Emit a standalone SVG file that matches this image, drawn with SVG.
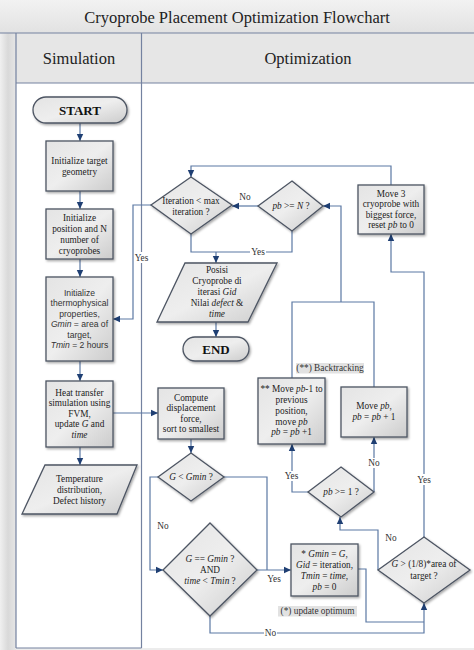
<svg xmlns="http://www.w3.org/2000/svg" width="474" height="650" viewBox="0 0 474 650">
<defs>
<linearGradient id="nodeGrad" x1="0" y1="0" x2="1" y2="1">
<stop offset="0" stop-color="#e4e4e4"/>
<stop offset="0.5" stop-color="#eeeeee"/>
<stop offset="1" stop-color="#cccccc"/>
</linearGradient>
<linearGradient id="titleGrad" x1="0" y1="0" x2="0" y2="1">
<stop offset="0" stop-color="#f2f2f2"/>
<stop offset="1" stop-color="#e2e2e2"/>
</linearGradient>
<linearGradient id="stripGrad" x1="0" y1="0" x2="1" y2="0">
<stop offset="0" stop-color="#f0f0f0"/>
<stop offset="0.5" stop-color="#d9d9d9"/>
<stop offset="1" stop-color="#e6e6e6"/>
</linearGradient>
<filter id="shadow" x="-10%" y="-10%" width="125%" height="130%">
<feDropShadow dx="1.2" dy="1.5" stdDeviation="0.8" flood-color="#000" flood-opacity="0.35"/>
</filter>
<marker id="arr" markerUnits="userSpaceOnUse" markerWidth="8" markerHeight="8" refX="7" refY="4" orient="auto">
<path d="M0,0.8 L7,4 L0,7.2 Z" fill="#1f3f73"/>
</marker>
</defs>
<style>
.node{fill:url(#nodeGrad);stroke:#4d5563;stroke-width:1.3;filter:url(#shadow)}
.t{font-family:"Liberation Serif","Times New Roman",serif;font-size:9.3px;fill:#222;text-anchor:middle}
.s{font-family:"Liberation Sans",Arial,sans-serif;font-size:8.6px;fill:#333;text-anchor:middle}
.b{font-family:"Liberation Serif","Times New Roman",serif;font-size:13px;font-weight:bold;fill:#111;text-anchor:middle}
.h{font-family:"Liberation Serif","Times New Roman",serif;font-size:16.5px;fill:#222;text-anchor:middle}
.lbl{font-family:"Liberation Serif","Times New Roman",serif;font-size:9.3px;fill:#333;text-anchor:middle}
.i{font-style:italic}
.frame{stroke:#7482a0;stroke-width:1.2;fill:none}
.conn path{fill:none;stroke:#5b78a3;stroke-width:1.2}
.a{marker-end:url(#arr)}
.wbg{fill:#fff}
.gbg{fill:#e2e2e2}
</style>

<g id="frame">
<rect x="0" y="0" width="474" height="650" fill="#ececec"/>
<rect x="0" y="0" width="474" height="33" fill="url(#titleGrad)"/>
<rect x="0" y="33" width="16" height="617" fill="url(#stripGrad)"/>
<rect x="16" y="33" width="458" height="50" fill="#e6e6e6"/>
<rect x="16" y="83" width="458" height="565" fill="#ffffff"/>
<path class="frame" d="M0,33 H474 M16,83 H474 M16,33 V648 M141.5,33 V648 M16,648 H141.5"/>
<text class="h" x="237" y="23">Cryoprobe Placement Optimization Flowchart</text>
<text class="h" x="79" y="64">Simulation</text>
<text class="h" x="308" y="64">Optimization</text>
</g>

<g class="conn" id="connectors">
<path class="a" d="M80,123 V141"/>
<path class="a" d="M80,191 V209"/>
<path class="a" d="M80,259 V277"/>
<path class="a" d="M80,361 V381"/>
<path class="a" d="M80,447 V465"/>
<path class="a" d="M113,413 H158"/>
<path class="a" d="M191,439 V453"/>
<path class="a" d="M158,477 H150 V570 H163"/>
<path d="M224,477 H267 V570"/>
<path class="a" d="M257,570 H291"/>
<path class="a" d="M210,616 V633 H424 V603"/>
<path d="M358,569 H366 V622 H424"/>
<path class="a" d="M378,570 V530 H340 V517"/>
<path class="a" d="M424,537 V272 H391 V234"/>
<path class="a" d="M308,492 H292 V444"/>
<path class="a" d="M374,492 V437"/>
<path d="M292,378 V302 H374 V387"/>
<path class="a" d="M341,302 V206 H323"/>
<path class="a" d="M258,206 H232"/>
<path d="M292,231 V252 H191 V234"/>
<path class="a" d="M216,252 V263"/>
<path class="a" d="M151,205 H133 V319 H113"/>
<path class="a" d="M391,185 V166 H191 V177"/>
<path class="a" d="M216,322 V337"/>
</g>

<g id="connector-labels">
<rect class="wbg" x="134" y="252" width="15" height="11"/>
<text class="lbl" x="141.5" y="261">Yes</text>
<text class="lbl" x="245" y="200">No</text>
<rect class="wbg" x="250" y="247" width="16" height="10"/>
<text class="lbl" x="258" y="255">Yes</text>
<rect class="wbg" x="284" y="471" width="15" height="10"/>
<text class="lbl" x="291.5" y="479">Yes</text>
<rect class="wbg" x="368" y="458" width="12" height="10"/>
<text class="lbl" x="374" y="466">No</text>
<rect class="wbg" x="416" y="474" width="16" height="11"/>
<text class="lbl" x="424" y="483">Yes</text>
<text class="lbl" x="391" y="541">No</text>
<text class="lbl" x="163" y="529">No</text>
<text class="lbl" x="274" y="582">Yes</text>
<rect class="wbg" x="264" y="628" width="13" height="10"/>
<text class="lbl" x="270.5" y="636">No</text>
</g>

<g id="start">
<rect class="node" x="33" y="97" width="94" height="26" rx="13"/>
<text class="b" x="80" y="114.5">START</text>
</g>

<g id="init-geometry">
<rect class="node" x="46" y="141" width="67" height="50"/>
<text class="t" x="79.5" y="163.7">Initialize target</text>
<text class="t" x="79.5" y="174.7">geometry</text>
</g>

<g id="init-position">
<rect class="node" x="46" y="209" width="67" height="50"/>
<text class="t" x="79.5" y="220.7">Initialize</text>
<text class="t" x="79.5" y="231.7">position and N</text>
<text class="t" x="79.5" y="242.7">number of</text>
<text class="t" x="79.5" y="253.7">cryoprobes</text>
</g>

<g id="init-thermo">
<rect class="node" x="46" y="277" width="67" height="84"/>
<text class="s" x="79.5" y="295.8">Initialize</text>
<text class="s" x="79.5" y="306.3">thermophysical</text>
<text class="s" x="79.5" y="316.8">properties,</text>
<text class="s" x="79.5" y="327.3"><tspan class="i">Gmin</tspan> = area of</text>
<text class="s" x="79.5" y="337.8">target,</text>
<text class="s" x="79.5" y="348.3"><tspan class="i">Tmin</tspan> = 2 hours</text>
</g>

<g id="heat-transfer">
<rect class="node" x="46" y="381" width="67" height="66"/>
<text class="t" x="79.5" y="395.7">Heat transfer</text>
<text class="t" x="79.5" y="406.2">simulation using</text>
<text class="t" x="79.5" y="416.7">FVM,</text>
<text class="t" x="79.5" y="427.2">update <tspan class="i">G</tspan> and</text>
<text class="t" x="79.5" y="437.7"><tspan class="i">time</tspan></text>
</g>

<g id="temperature-output">
<polygon class="node" points="45,465 137,465 117,514 22,514"/>
<text class="t" x="79.5" y="482">Temperature</text>
<text class="t" x="79.5" y="493">distribution,</text>
<text class="t" x="79.5" y="504">Defect history</text>
</g>

<g id="iteration-check">
<polygon class="node" points="191,177 232,205 191,234 151,205"/>
<text class="t" x="191" y="204.2">Iteration &lt; max</text>
<text class="t" x="191" y="215.2">iteration ?</text>
</g>

<g id="pb-ge-n">
<polygon class="node" points="292,181 323,206 292,231 258,206"/>
<text class="t" x="291" y="209.2"><tspan class="i">pb</tspan> &gt;= <tspan class="i">N</tspan> ?</text>
</g>

<g id="move-3">
<rect class="node" x="358" y="185" width="66" height="49"/>
<text class="t" x="391" y="196.8">Move 3</text>
<text class="t" x="391" y="207.3">cryoprobe with</text>
<text class="t" x="391" y="217.8">biggest force,</text>
<text class="t" x="391" y="228.3">reset <tspan class="i">pb</tspan> to 0</text>
</g>

<g id="posisi-output">
<polygon class="node" points="185,263 277,263 248,322 157,322"/>
<text class="t" x="217" y="273.2">Posisi</text>
<text class="t" x="217" y="284.2">Cryoprobe di</text>
<text class="t" x="217" y="295.2">iterasi <tspan class="i">Gid</tspan></text>
<text class="t" x="217" y="306.2">Nilai <tspan class="i">defect</tspan> &amp;</text>
<text class="t" x="217" y="317.2"><tspan class="i">time</tspan></text>
</g>

<g id="end">
<rect class="node" x="183" y="337" width="66" height="24" rx="12"/>
<text class="b" x="216" y="353.5">END</text>
</g>

<g id="backtracking-label">
<rect class="gbg" x="296" y="363" width="68" height="10.5"/>
<text class="lbl" x="330" y="371.3">(**) Backtracking</text>
</g>

<g id="move-pb-minus-1">
<rect class="node" x="258" y="378" width="67" height="66"/>
<text class="t" x="291.5" y="392.2">** Move <tspan class="i">pb</tspan>-1 to</text>
<text class="t" x="291.5" y="403">previous</text>
<text class="t" x="291.5" y="413.8">position,</text>
<text class="t" x="291.5" y="424.6">move <tspan class="i">pb</tspan></text>
<text class="t" x="291.5" y="435.4"><tspan class="i">pb</tspan> = <tspan class="i">pb</tspan> +1</text>
</g>

<g id="move-pb">
<rect class="node" x="341" y="387" width="66" height="50"/>
<text class="t" x="374" y="409.2">Move <tspan class="i">pb</tspan>,</text>
<text class="t" x="374" y="420.2"><tspan class="i">pb</tspan> = <tspan class="i">pb</tspan> + 1</text>
</g>

<g id="compute-force">
<rect class="node" x="158" y="388" width="66" height="51"/>
<text class="t" x="191" y="400.9">Compute</text>
<text class="t" x="191" y="411.4">displacement</text>
<text class="t" x="191" y="421.9">force,</text>
<text class="t" x="191" y="432.4">sort to smallest</text>
</g>

<g id="pb-ge-1">
<polygon class="node" points="341,467 374,492 341,517 308,492"/>
<text class="t" x="341" y="495.2"><tspan class="i">pb</tspan> &gt;= 1 ?</text>
</g>

<g id="g-lt-gmin">
<polygon class="node" points="191,453 224,477 191,501 158,477"/>
<text class="t" x="191" y="480.2"><tspan class="i">G</tspan> &lt; <tspan class="i">Gmin</tspan> ?</text>
</g>

<g id="g-eq-gmin">
<polygon class="node" points="210,523 257,570 210,616 163,570"/>
<text class="t" x="210" y="562.2"><tspan class="i">G</tspan> == <tspan class="i">Gmin</tspan> ?</text>
<text class="t" x="210" y="573.2">AND</text>
<text class="t" x="210" y="584.2"><tspan class="i">time</tspan> &lt; <tspan class="i">Tmin</tspan> ?</text>
</g>

<g id="update-optimum">
<rect class="node" x="291" y="544" width="67" height="52"/>
<text class="t" x="324.5" y="556.7">* <tspan class="i">Gmin</tspan> = <tspan class="i">G</tspan>,</text>
<text class="t" x="324.5" y="567.7"><tspan class="i">Gid</tspan> = iteration,</text>
<text class="t" x="324.5" y="578.7"><tspan class="i">Tmin</tspan> = <tspan class="i">time</tspan>,</text>
<text class="t" x="324.5" y="589.7"><tspan class="i">pb</tspan> = 0</text>
</g>

<g id="update-optimum-label">
<rect class="gbg" x="278" y="606" width="79" height="10.5"/>
<text class="lbl" x="317.5" y="614.3">(*) update optimum</text>
</g>

<g id="g-gt-area">
<polygon class="node" points="424,537 470,570 424,603 378,570"/>
<text class="t" x="424" y="566.7"><tspan class="i">G</tspan> &gt; (1/8)*area of</text>
<text class="t" x="424" y="579.2">target ?</text>
</g>
</svg>
